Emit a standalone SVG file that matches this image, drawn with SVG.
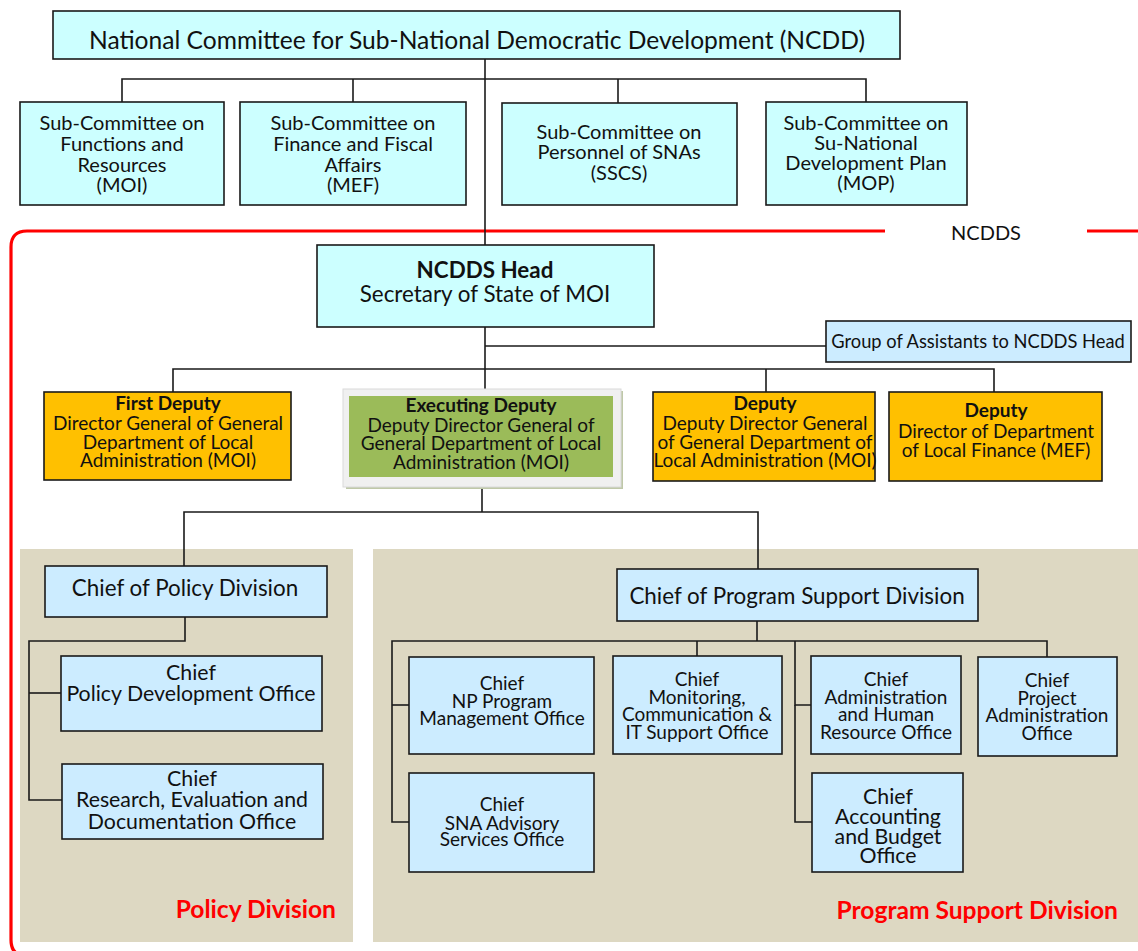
<svg xmlns="http://www.w3.org/2000/svg" width="1138" height="951" viewBox="0 0 1138 951">
<style>
text{font-family:Lato,"Liberation Sans",sans-serif;fill:#111;text-anchor:middle}
.b{stroke:#1a1a1a;stroke-width:1.6}
.cy{fill:#CCFFFF}
.lb{fill:#CCECFF}
.or{fill:#FFC000}
.c{fill:none;stroke:#1a1a1a;stroke-width:1.6}
.s20{font-size:20px}
.s19{font-size:19px}
.s18{font-size:18.3px}
.s21{font-size:21.3px}
.s22{font-size:22.4px}
.red{fill:#FF0000;font-weight:bold;font-size:24.6px;text-anchor:end}
</style>
<rect width="1138" height="951" fill="#fff"/>
<!-- panels -->
<rect x="20" y="549" width="333" height="393" fill="#DDD8C2"/>
<rect x="373" y="549" width="765" height="393" fill="#DDD8C2"/>
<!-- NCDDS red frame -->
<path d="M885 231 H27 Q11 231 11 247 V940 Q11 956 27 956" fill="none" stroke="#FF0000" stroke-width="3.2"/>
<path d="M1087 231 H1140" fill="none" stroke="#FF0000" stroke-width="3.2"/>
<text x="986" y="240" class="s20">NCDDS</text>
<!-- connectors -->
<g id="connectors">
<path class="c" d="M485 59 V245"/>
<path class="c" d="M122 102 V79 H866 V102"/>
<path class="c" d="M353 79 V102"/>
<path class="c" d="M618 79 V103"/>
<path class="c" d="M485 327 V389"/>
<path class="c" d="M485 346 H826"/>
<path class="c" d="M173 392 V369 H994 V392"/>
<path class="c" d="M766 369 V392"/>
<path class="c" d="M482 487 V512"/>
<path class="c" d="M184 566 V512 H758 V569"/>
<path class="c" d="M185 617 V641 H29 V800 H62"/>
<path class="c" d="M29 693 H61"/>
<path class="c" d="M757 621 V641"/>
<path class="c" d="M409 822 H392 V641 H1047 V657"/>
<path class="c" d="M392 705 H409"/>
<path class="c" d="M697 641 V656"/>
<path class="c" d="M811 705 H795 V641"/>
<path class="c" d="M795 705 V822 H812"/>
</g>
<g id="ncdd">
<rect class="b cy" x="53" y="11" width="847" height="48"/>
<text x="477" y="49" style="font-size:24.6px">National Committee for Sub-National Democratic Development (NCDD)</text>
</g>
<g id="sc1">
<rect class="b cy" x="20" y="102" width="204" height="103"/>
<text class="s20"><tspan x="122" y="130">Sub-Committee on</tspan><tspan x="122" y="151">Functions and</tspan><tspan x="122" y="172">Resources</tspan><tspan x="122" y="192">(MOI)</tspan></text>
</g>
<g id="sc2">
<rect class="b cy" x="240" y="102" width="226" height="103"/>
<text class="s20"><tspan x="353" y="130">Sub-Committee on</tspan><tspan x="353" y="151">Finance and Fiscal</tspan><tspan x="353" y="172">Affairs</tspan><tspan x="353" y="192">(MEF)</tspan></text>
</g>
<g id="sc3">
<rect class="b cy" x="502" y="103" width="235" height="102"/>
<text class="s20"><tspan x="619" y="139">Sub-Committee on</tspan><tspan x="619" y="159">Personnel of SNAs</tspan><tspan x="619" y="180">(SSCS)</tspan></text>
</g>
<g id="sc4">
<rect class="b cy" x="766" y="102" width="201" height="103"/>
<text class="s20"><tspan x="866" y="130">Sub-Committee on</tspan><tspan x="866" y="150">Su-National</tspan><tspan x="866" y="170">Development Plan</tspan><tspan x="866" y="190">(MOP)</tspan></text>
</g>
<g id="head">
<rect class="b cy" x="317" y="245" width="337" height="82"/>
<text class="s22"><tspan x="485" y="278" font-weight="bold">NCDDS Head</tspan><tspan x="485" y="302">Secretary of State of MOI</tspan></text>
</g>
<g id="assistants">
<rect class="b lb" x="826" y="321" width="305" height="41"/>
<text x="978" y="348" class="s18">Group of Assistants to NCDDS Head</text>
</g>
<g id="dep1">
<rect class="b or" x="44" y="392" width="247" height="88"/>
<text class="s19"><tspan x="168" y="410" font-weight="bold">First Deputy</tspan><tspan x="168" y="430">Director General of General</tspan><tspan x="168" y="449">Department of Local</tspan><tspan x="168" y="467">Administration (MOI)</tspan></text>
</g>
<g id="exec">
<rect x="346" y="391" width="277" height="98" fill="#BFC8A8"/>
<rect x="343" y="389" width="278" height="98" fill="#F0F0F0" stroke="#DADADA" stroke-width="1"/>
<rect x="349" y="396" width="264" height="81" fill="#9BBB59"/>
<text class="s19"><tspan x="481" y="412" font-weight="bold">Executing Deputy</tspan><tspan x="481" y="432">Deputy Director General of</tspan><tspan x="481" y="450">General Department of Local</tspan><tspan x="481" y="469">Administration (MOI)</tspan></text>
</g>
<g id="dep3">
<rect class="b or" x="653" y="392" width="222" height="89"/>
<text class="s19"><tspan x="765" y="410" font-weight="bold">Deputy</tspan><tspan x="765" y="430">Deputy Director General</tspan><tspan x="765" y="449">of General Department of</tspan><tspan x="765" y="467">Local Administration (MOI)</tspan></text>
</g>
<g id="dep4">
<rect class="b or" x="889" y="392" width="213" height="89"/>
<text class="s19"><tspan x="996" y="417" font-weight="bold">Deputy</tspan><tspan x="996" y="438">Director of Department</tspan><tspan x="996" y="457">of Local Finance (MEF)</tspan></text>
</g>
<g id="policy-chief">
<rect class="b lb" x="45" y="566" width="282" height="51"/>
<text x="185" y="596" class="s22">Chief of Policy Division</text>
</g>
<g id="pdo">
<rect class="b lb" x="61" y="656" width="261" height="75"/>
<text class="s21"><tspan x="191" y="680">Chief</tspan><tspan x="191" y="701">Policy Development Office</tspan></text>
</g>
<g id="red">
<rect class="b lb" x="62" y="764" width="261" height="75"/>
<text class="s21"><tspan x="192" y="786">Chief</tspan><tspan x="192" y="807">Research, Evaluation and</tspan><tspan x="192" y="829">Documentation Office</tspan></text>
</g>
<text class="red" x="336" y="918">Policy Division</text>
<g id="psd-chief">
<rect class="b lb" x="617" y="569" width="361" height="52"/>
<text x="797" y="604" class="s22">Chief of Program Support Division</text>
</g>
<g id="np">
<rect class="b lb" x="409" y="657" width="185" height="97"/>
<text class="s19"><tspan x="502" y="690">Chief</tspan><tspan x="502" y="708">NP Program</tspan><tspan x="502" y="725">Management Office</tspan></text>
</g>
<g id="sna">
<rect class="b lb" x="409" y="773" width="185" height="99"/>
<text class="s19"><tspan x="502" y="811">Chief</tspan><tspan x="502" y="830">SNA Advisory</tspan><tspan x="502" y="846">Services Office</tspan></text>
</g>
<g id="mcit">
<rect class="b lb" x="613" y="656" width="169" height="98"/>
<text class="s19"><tspan x="697" y="686">Chief</tspan><tspan x="697" y="704">Monitoring,</tspan><tspan x="697" y="721">Communication &amp;</tspan><tspan x="697" y="739">IT Support Office</tspan></text>
</g>
<g id="ahr">
<rect class="b lb" x="811" y="656" width="150" height="98"/>
<text class="s19"><tspan x="886" y="686">Chief</tspan><tspan x="886" y="704">Administration</tspan><tspan x="886" y="721">and Human</tspan><tspan x="886" y="739">Resource Office</tspan></text>
</g>
<g id="pao">
<rect class="b lb" x="978" y="657" width="139" height="99"/>
<text class="s19"><tspan x="1047" y="687">Chief</tspan><tspan x="1047" y="705">Project</tspan><tspan x="1047" y="722">Administration</tspan><tspan x="1047" y="740">Office</tspan></text>
</g>
<g id="abo">
<rect class="b lb" x="812" y="773" width="151" height="99"/>
<text class="s21"><tspan x="888" y="804">Chief</tspan><tspan x="888" y="824">Accounting</tspan><tspan x="888" y="844">and Budget</tspan><tspan x="888" y="863">Office</tspan></text>
</g>
<text class="red" x="1118" y="919">Program Support Division</text>
</svg>
